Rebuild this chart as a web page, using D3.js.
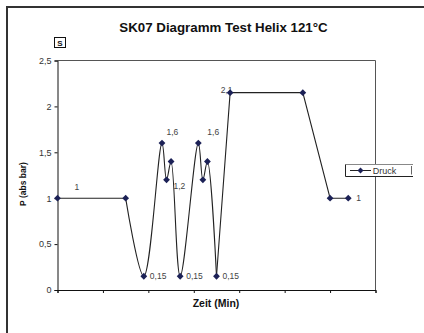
<!DOCTYPE html>
<html>
<head>
<meta charset="utf-8">
<script src="https://cdn.jsdelivr.net/npm/d3@7"></script>
<style>
  html, body { margin: 0; padding: 0; background: #fff; }
  svg { display: block; font-family: "Liberation Sans", Arial, sans-serif; }
</style>
</head>
<body>
<svg id="chart" width="424" height="333"></svg>
<script>
// ---- data ----
const times = [0, 30, 38, 46, 48, 50, 54, 62, 64, 66, 70, 76, 108, 120, 128];
const pressure = [1, 1, 0.15, 1.6, 1.2, 1.4, 0.15, 1.6, 1.2, 1.4, 0.15, 2.15, 2.15, 1, 1];
const pointLabels = ["1", "", "0,15", "1,6", "1,2", "", "0,15", "1,6", "", "", "0,15", "2,1", "", "", "1"];
const yTicks = [0, 0.5, 1, 1.5, 2, 2.5];
const xTicks = [0, 20, 40, 60, 80, 100, 120, 140];
const seriesName = "Druck";
const chartTitle = "SK07 Diagramm Test Helix 121°C";
const xTitle = "Zeit (Min)";
const yTitle = "P (abs bar)";

// label placement (layout only)
const labelOffsets = [[17,-11],[0,0],[6,0],[4.5,-11],[7,6.5],[0,0],[6,0],[9,-11],[0,0],[0,0],[6,0],[-9.5,-3],[0,0],[0,0],[8,0]];

const svg = d3.select("#chart");
const pLeft = 57.5, pRight = 375.5, pTop = 60.5, pBottom = 290;
const x = d3.scaleLinear().domain([0, 140]).range([pLeft, pRight]);
const y = d3.scaleLinear().domain([0, 2.5]).range([pBottom, pTop]);

// outer frame (only top and left visible)
svg.append("path").attr("d", "M7,333 V7 H424").attr("fill", "none").attr("stroke", "#333").attr("stroke-width", 2);

// title
svg.append("text").attr("x", 223.5).attr("y", 31.5).attr("text-anchor", "middle")
  .attr("font-size", 13.3).attr("font-weight", "bold").attr("fill", "#111").text(chartTitle);

// "S" box
svg.append("rect").attr("x", 54.5).attr("y", 37.5).attr("width", 11).attr("height", 10)
  .attr("fill", "#fff").attr("stroke", "#111").attr("stroke-width", 1);
svg.append("text").attr("x", 60).attr("y", 45.8).attr("text-anchor", "middle")
  .attr("font-size", 8).attr("font-weight", "bold").attr("fill", "#111").text("S");

// plot border (top & right)
svg.append("path").attr("d", `M${pLeft},${pTop} H${pRight} V${pBottom}`)
  .attr("fill", "none").attr("stroke", "#555").attr("stroke-width", 1);

// y axis
const yAxis = d3.axisLeft(y).tickValues(yTicks).tickSize(3).tickPadding(3)
  .tickFormat(d => String(d).replace(".", ","));
const gy = svg.append("g").attr("transform", `translate(${pLeft},0)`).call(yAxis);
gy.select(".domain").attr("stroke", "#111");
gy.selectAll(".tick line").attr("stroke", "#111");
gy.selectAll("text").attr("font-size", 9).attr("fill", "#333").attr("font-family", "Liberation Sans, Arial, sans-serif");

// x axis
const xAxis = d3.axisBottom(x).tickValues(xTicks).tickSize(3).tickFormat("");
const gx = svg.append("g").attr("transform", `translate(0,${pBottom})`).call(xAxis);
gx.select(".domain").attr("stroke", "#111");
gx.selectAll(".tick line").attr("stroke", "#111");

// axis titles
svg.append("text").attr("x", 216).attr("y", 307).attr("text-anchor", "middle")
  .attr("font-size", 10.5).attr("font-weight", "bold").attr("fill", "#111").text(xTitle);
svg.append("text").attr("transform", "translate(25.5,184) rotate(-90)").attr("text-anchor", "middle")
  .attr("font-size", 8.5).attr("font-weight", "bold").attr("fill", "#111").text(yTitle);

// data
const pts = times.map((t, i) => ({ t, p: pressure[i], label: pointLabels[i], off: labelOffsets[i] }));

// labels (under the line)
svg.append("g").selectAll("text").data(pts.filter(d => d.label)).join("text")
  .attr("x", d => x(d.t) + d.off[0]).attr("y", d => y(d.p) + d.off[1])
  .attr("dy", "0.35em").attr("font-size", 8.5).attr("fill", "#444").text(d => d.label);

// line: straight first segment, smoothed oscillation, straight rest
const lineLin = d3.line().x(d => x(d.t)).y(d => y(d.p));
const lineSmooth = d3.line().x(d => x(d.t)).y(d => y(d.p)).curve(d3.curveCatmullRom.alpha(0.5));
const gl = svg.append("g").attr("fill", "none").attr("stroke", "#222").attr("stroke-width", 1.1);
gl.append("path").attr("d", lineLin(pts.slice(0, 2)));
gl.append("path").attr("d", lineSmooth(pts.slice(1, 11)));
gl.append("path").attr("d", lineLin(pts.slice(10)));

// markers (square diamonds)
const r = 3.4;
const diamondPath = `M0,${-r}L${r},0L0,${r}L${-r},0Z`;
svg.append("g").selectAll("path").data(pts).join("path")
  .attr("d", diamondPath).attr("transform", d => `translate(${x(d.t)},${y(d.p)})`)
  .attr("fill", "#1c2156");

// legend
const lg = svg.append("g");
lg.append("rect").attr("x", 345.5).attr("y", 164.5).attr("width", 68).attr("height", 12)
  .attr("fill", "#fff").attr("stroke", "none");
lg.append("path").attr("d", "M345.5,164.5 H413").attr("stroke", "#888").attr("fill", "none");
lg.append("path").attr("d", "M345.5,164.5 V176.5 H413").attr("stroke", "#222").attr("fill", "none");
lg.append("line").attr("x1", 350).attr("x2", 371).attr("y1", 170.5).attr("y2", 170.5).attr("stroke", "#222");
lg.append("path").attr("d", `M0,-3L3,0L0,3L-3,0Z`).attr("transform", "translate(360.5,170.5)")
  .attr("fill", "#1c2156");
lg.append("text").attr("x", 372.7).attr("y", 170.5).attr("dy", "0.35em").attr("font-size", 9).attr("fill", "#333").text(seriesName);
lg.append("line").attr("x1", 411.5).attr("x2", 411.5).attr("y1", 166).attr("y2", 174.5).attr("stroke", "#666");
</script>
</body>
</html>
